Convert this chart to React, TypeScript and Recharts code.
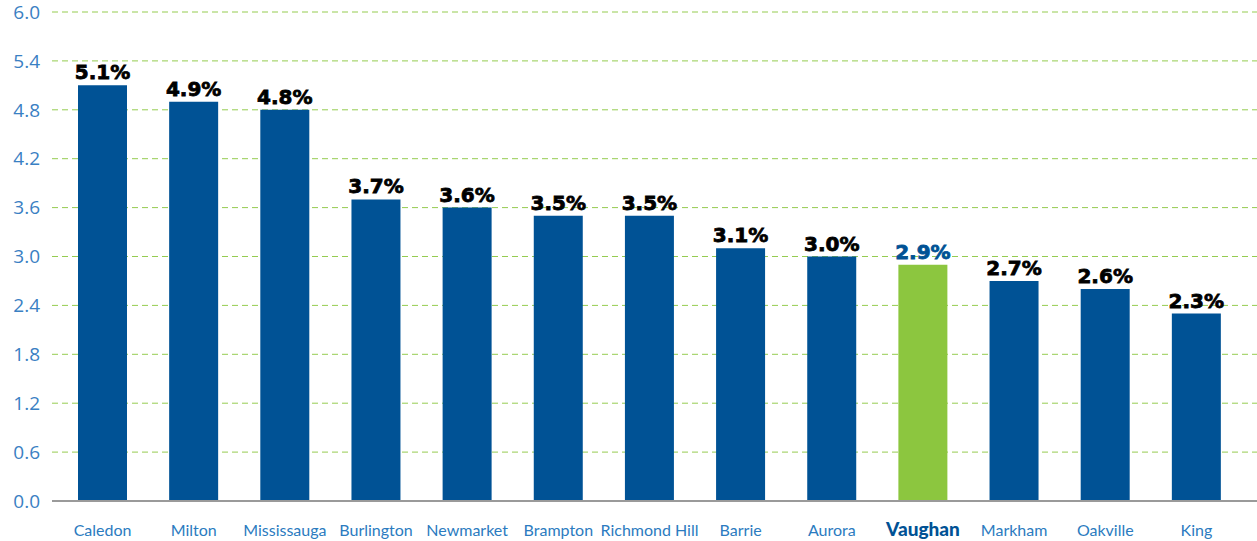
import React from 'react';
import { BarChart, Bar, XAxis, YAxis, CartesianGrid, Cell, LabelList } from 'recharts';

const cities = ['Caledon', 'Milton', 'Mississauga', 'Burlington', 'Newmarket', 'Brampton', 'Richmond Hill', 'Barrie', 'Aurora', 'Vaughan', 'Markham', 'Oakville', 'King'];
const rates = [5.1, 4.9, 4.8, 3.7, 3.6, 3.5, 3.5, 3.1, 3.0, 2.9, 2.7, 2.6, 2.3];
const yTicks = [0, 0.6, 1.2, 1.8, 2.4, 3.0, 3.6, 4.2, 4.8, 5.4, 6.0];
const highlight = 'Vaughan';

const data = cities.map((name, i) => ({ name, value: rates[i] }));

const BLUE = '#005295';
const GREEN = '#8CC63F';

const CityTick = (props: any) => {
  const { x, y, payload } = props;
  const isHi = payload.value === highlight;
  return (
    <text
      x={x}
      y={y + 27}
      textAnchor="middle"
      fontFamily="Lato, sans-serif"
      fontSize={isHi ? 19 : 16}
      fontWeight={isHi ? 900 : 400}
      fill={isHi ? BLUE : '#2B7BC0'}
    >
      {payload.value}
    </text>
  );
};

const ValueLabel = (props: any) => {
  const { x, y, width, value, index } = props;
  const isHi = cities[index] === highlight;
  return (
    <text
      x={x + width / 2}
      y={y - 6}
      textAnchor="middle"
      fontFamily="'DejaVu Sans', sans-serif"
      fontSize={20}
      fontWeight={700}
      stroke={isHi ? BLUE : '#000000'}
      strokeWidth={0.8}
      fill={isHi ? BLUE : '#000000'}
    >
      {Number(value).toFixed(1)}%
    </text>
  );
};

export default function App() {
  return (
    <div style={{ position: 'absolute', left: 0, top: 0, background: '#fff' }}>
      <BarChart width={1257} height={541} data={data} margin={{ top: 12, right: 0, bottom: 0, left: 0 }}>
        <CartesianGrid vertical={false} stroke="#95CC50" strokeDasharray="6 4" />
        <XAxis
          dataKey="name"
          interval={0}
          padding={{ left: 5, right: 15 }}
          tickLine={false}
          axisLine={{ stroke: '#9A9A9A', strokeWidth: 2 }}
          tick={<CityTick />}
          height={40}
        />
        <YAxis
          domain={[0, 6]}
          ticks={yTicks}
          width={52}
          tickLine={false}
          axisLine={false}
          tickSize={0}
          tickMargin={12}
          tickFormatter={(v: number) => v.toFixed(1)}
          tick={{ fill: '#3A80C3', fontSize: 19, fontFamily: "'Open Sans', sans-serif" }}
        />
        <Bar dataKey="value" barSize={49} isAnimationActive={false}>
          {data.map((d, i) => (
            <Cell key={i} fill={d.name === highlight ? GREEN : BLUE} />
          ))}
          <LabelList dataKey="value" content={<ValueLabel />} />
        </Bar>
      </BarChart>
    </div>
  );
}
